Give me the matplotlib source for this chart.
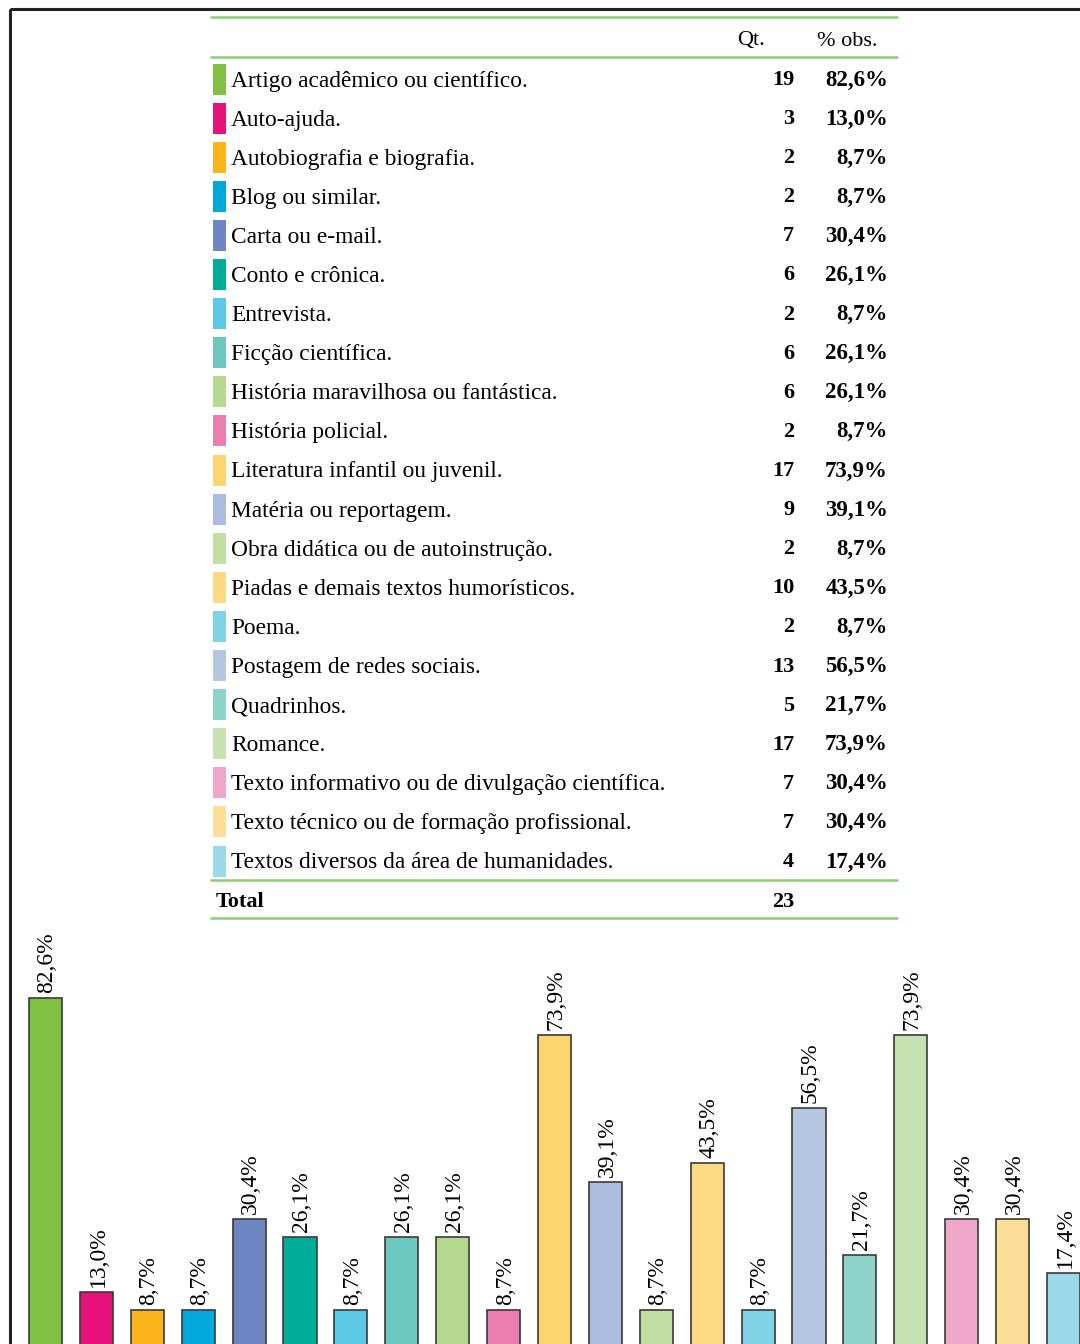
import matplotlib
matplotlib.use("Agg")
import matplotlib.pyplot as plt
from matplotlib.patches import Rectangle

plt.rcParams['font.family'] = ['Liberation Serif', 'DejaVu Serif']

# dados
categorias = [
    "Artigo acadêmico ou científico.",
    "Auto-ajuda.",
    "Autobiografia e biografia.",
    "Blog ou similar.",
    "Carta ou e-mail.",
    "Conto e crônica.",
    "Entrevista.",
    "Ficção científica.",
    "História maravilhosa ou fantástica.",
    "História policial.",
    "Literatura infantil ou juvenil.",
    "Matéria ou reportagem.",
    "Obra didática ou de autoinstrução.",
    "Piadas e demais textos humorísticos.",
    "Poema.",
    "Postagem de redes sociais.",
    "Quadrinhos.",
    "Romance.",
    "Texto informativo ou de divulgação científica.",
    "Texto técnico ou de formação profissional.",
    "Textos diversos da área de humanidades.",
]
qt = [19, 3, 2, 2, 7, 6, 2, 6, 6, 2, 17, 9, 2, 10, 2, 13, 5, 17, 7, 7, 4]
pct = [82.6, 13.0, 8.7, 8.7, 30.4, 26.1, 8.7, 26.1, 26.1, 8.7, 73.9,
       39.1, 8.7, 43.5, 8.7, 56.5, 21.7, 73.9, 30.4, 30.4, 17.4]
total = 23
cores = ["#80C141", "#E5127A", "#FBB41A", "#00A8DC", "#6E87C4", "#00AE97",
         "#5BC8E5", "#6CC7BE", "#B5D98F", "#EC7DAF", "#FDD56F", "#AABDDF",
         "#C1DFA3", "#FDD885", "#80D2E5", "#B6C7E2", "#8ED4CA", "#C6E2B0",
         "#F0A6C8", "#FCDE98", "#9CD9E8"]

def fmt(v):
    return ("%.1f%%" % v).replace(".", ",")

W, H = 1080, 1344
fig = plt.figure(figsize=(W / 100, H / 100), dpi=100)

# camada de desenho em pixels (tabela + moldura)
ov = fig.add_axes([0, 0, 1, 1])
ov.set_xlim(0, W)
ov.set_ylim(H, 0)
ov.axis('off')

ov.add_patch(Rectangle((10, 9), W + 20, H + 20, fill=False, ec="#222222", lw=2.2))

verde = "#8ACF74"
x0, x1 = 210, 898
for y in (17, 57, 880, 918):
    ov.plot([x0, x1], [y, y], color=verde, lw=1.8, solid_capstyle='butt')

ov.text(751, 41, "Qt.", ha='center', va='center', fontsize=16)
ov.text(847, 41, "% obs.", ha='center', va='center', fontsize=16)

y_ini, passo = 79, 39.1
for i, (cat, q, p, c) in enumerate(zip(categorias, qt, pct, cores)):
    y = y_ini + passo * i
    ov.add_patch(Rectangle((213, y - 15.5), 12.5, 31, color=c, lw=0))
    ov.text(231, y + 2, cat, ha='left', va='center', fontsize=16.8)
    ov.text(794, y + 1, str(q), ha='right', va='center', fontsize=16, fontweight='bold')
    ov.text(888, y + 1, fmt(p), ha='right', va='center', fontsize=16.5, fontweight='bold')

ov.text(216, 902, "Total", ha='left', va='center', fontsize=16, fontweight='bold')
ov.text(794, 902, str(total), ha='right', va='center', fontsize=16, fontweight='bold')

# grafico de barras (cortado na base, como no original)
px_pct = 4.222
topo_px = 920
ax = fig.add_axes([0, 0, 1, (H - topo_px) / H])
ax.patch.set_alpha(0)
x = list(range(len(pct)))
ax.bar(x, pct, width=0.65, color=cores, edgecolor="#3A3A3A", linewidth=1.2)
for xi, p in zip(x, pct):
    ax.text(xi + 0.03, p + 1.2, fmt(p), rotation=90, ha='center', va='bottom', fontsize=17)
passo_x = 50.9
ax.set_xlim((0 - 45.5) / passo_x, (W - 45.5) / passo_x)
ax.set_ylim(0.7, 0.7 + (H - topo_px) / px_pct)
ax.axis('off')

fig.savefig("out.png", dpi=100)
